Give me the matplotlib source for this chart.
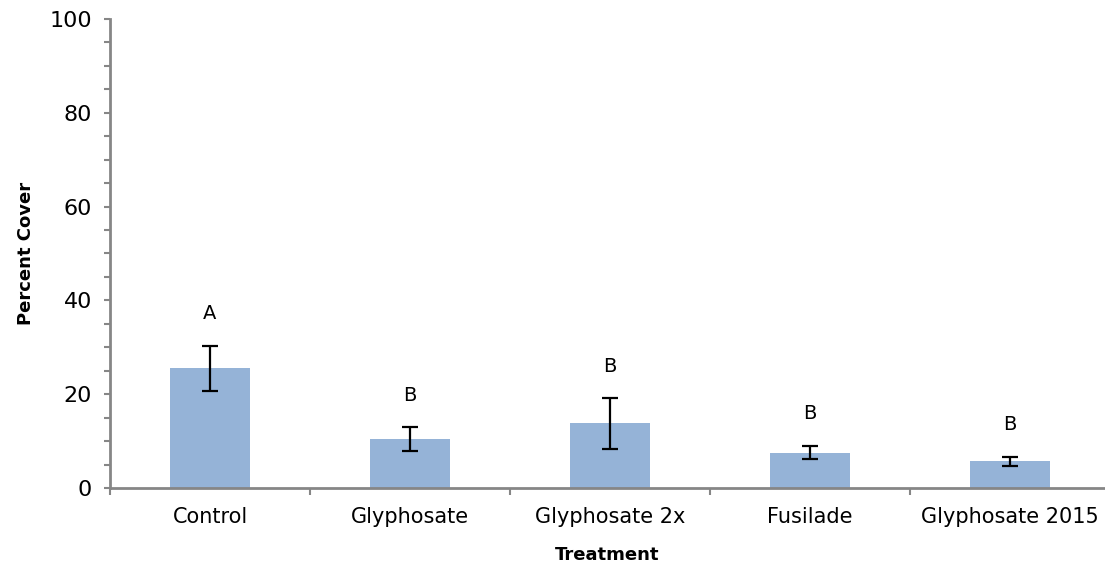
import matplotlib
matplotlib.use("Agg")
import matplotlib.pyplot as plt
from matplotlib.ticker import MultipleLocator, FixedLocator

categories = ["Control", "Glyphosate", "Glyphosate 2x", "Fusilade", "Glyphosate 2015"]
means = [25.5, 10.4, 13.8, 7.5, 5.7]
err_low = [20.7, 7.8, 8.4, 6.1, 4.6]
err_high = [30.3, 12.9, 19.2, 9.0, 6.7]
letters = ["A", "B", "B", "B", "B"]

plt.rcParams['font.family'] = ['DejaVu Sans']

fig = plt.figure(figsize=(11.05, 5.69), dpi=100)
ax = fig.add_axes([110/1105, 1 - 488/569, 1 - 110/1105, (488 - 19)/569])

x = list(range(len(categories)))
yerr = [[m - l for m, l in zip(means, err_low)], [h - m for m, h in zip(means, err_high)]]
ax.bar(x, means, width=0.4, color="#95B3D7", zorder=2)
ax.errorbar(x, means, yerr=yerr, fmt="none", ecolor="black", elinewidth=1.6,
            capsize=5.5, capthick=1.6, zorder=3)
for xi, h, t in zip(x, err_high, letters):
    ax.annotate(t, (xi, h), xytext=(0, 23), textcoords="offset points",
                ha="center", va="center", fontsize=14)

ax.set_xlim(-0.5, 4.475)
ax.set_ylim(0, 100)
ax.yaxis.set_major_locator(MultipleLocator(20))
ax.yaxis.set_minor_locator(MultipleLocator(5))
ax.set_xticks(x)
ax.set_xticklabels(categories, fontsize=15)
ax.xaxis.set_minor_locator(FixedLocator([-0.5, 0.5, 1.5, 2.5, 3.5, 4.5]))
ax.tick_params(axis="x", which="major", length=0, pad=14)
ax.tick_params(axis="x", which="minor", length=5, width=1.5, color="#868686")
ax.tick_params(axis="y", which="both", length=4, width=1.5, color="#868686", labelsize=16, pad=9)

for s in ["top", "right"]:
    ax.spines[s].set_visible(False)
for s in ["left", "bottom"]:
    ax.spines[s].set_color("#868686")
    ax.spines[s].set_linewidth(2)

ax.set_ylabel("Percent Cover", fontsize=13, fontweight="bold", labelpad=10)
ax.set_xlabel("Treatment", fontsize=13, fontweight="bold", labelpad=13)

fig.savefig("out.png", dpi=100)
